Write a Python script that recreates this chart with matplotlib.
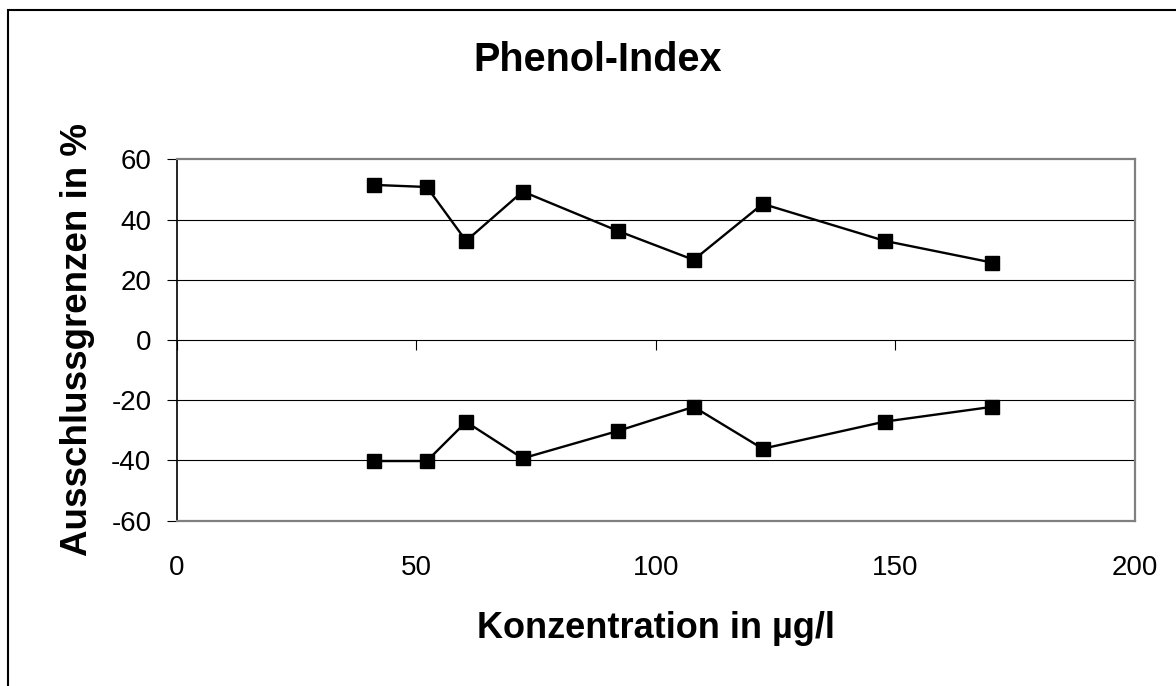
import matplotlib.pyplot as plt
from matplotlib.patches import Rectangle

plt.rcParams['font.family'] = ['Liberation Sans', 'DejaVu Sans']
plt.rcParams['axes.unicode_minus'] = False

# values
konz = [41.1, 52.2, 60.4, 72.2, 92.1, 107.9, 122.3, 147.8, 170.2]
obere = [51.5, 50.8, 32.9, 49.3, 36.2, 26.6, 45.2, 32.9, 25.7]
untere = [-40.2, -40.2, -27.2, -39.3, -30.2, -22.2, -36.1, -27.1, -22.2]

xticks = [0, 50, 100, 150, 200]
yticks = [-60, -40, -20, 0, 20, 40, 60]

fig = plt.figure(figsize=(11.76, 6.86), dpi=100)
ax = fig.add_axes([0.1503, 0.2410, 0.8148, 0.5268])

for serie in (obere, untere):
    ax.plot(konz, serie, color="black", lw=1.7, marker="s", ms=10,
            markerfacecolor="black", markeredgecolor="black", zorder=3)

ax.set_xlim(0, 200)
ax.set_ylim(-60, 60)
ax.set_xticks(xticks)
ax.set_yticks(yticks)

# horizontal gridlines, 0 line acts as category axis
for y in yticks[1:-1]:
    ax.axhline(y, color="black", lw=0.8, zorder=1)
ax.vlines(xticks, 0, -3.3, color="black", lw=0.8, zorder=1)

for s in ("top", "right", "bottom"):
    ax.spines[s].set_color("#808080")
    ax.spines[s].set_linewidth(1.6)
ax.spines["left"].set_color("black")
ax.spines["left"].set_linewidth(1.2)

ax.tick_params(axis="y", direction="out", length=7.2, width=0.8,
               labelsize=20, pad=11)
ax.tick_params(axis="x", length=0, labelsize=20, pad=25)

ax.set_xlabel("Konzentration in µg/l", fontsize=26, fontweight="bold",
              labelpad=21)
ax.set_ylabel("Ausschlussgrenzen in %", fontsize=26.5, fontweight="bold",
              labelpad=12)
fig.text(0.508, 0.912, "Phenol-Index", fontsize=28.5, fontweight="bold",
         ha="center", va="center")

# chart area border (only left and top visible in the image)
fig.add_artist(Rectangle((8 / 1176, -0.2), 1.2, 1.2 - 10 / 686,
                         transform=fig.transFigure, fill=False,
                         edgecolor="black", lw=1.5))

fig.savefig("out.png", dpi=100)
